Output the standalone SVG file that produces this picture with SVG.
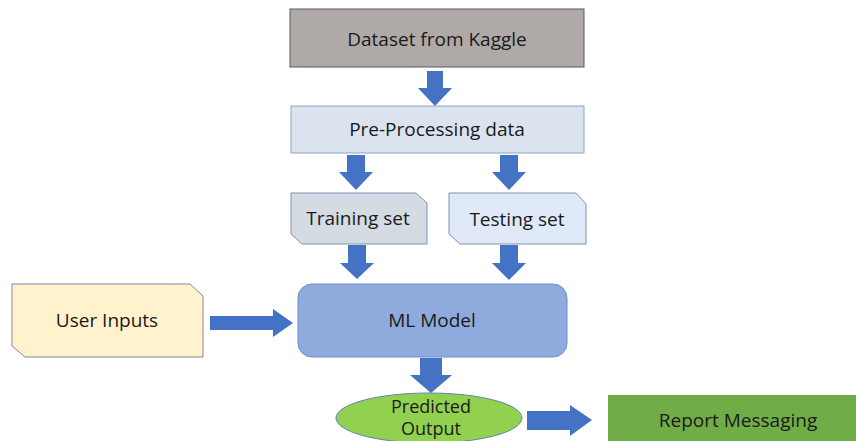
<svg xmlns="http://www.w3.org/2000/svg" width="856" height="441" viewBox="0 0 856 441">
<style>
text{font-family:"Open Sans","Liberation Sans",sans-serif;font-size:19px;fill:#1a1a1a;text-anchor:middle}
.sm{font-size:18px}
.arr{fill:#4472c4}
</style>
<rect width="856" height="441" fill="#ffffff"/>
<g id="connectors">
<polygon class="arr" points="427,71 443,71 443,88 452,88 435,106 418,88 427,88"/>
<polygon class="arr" points="347,155 365,155 365,172 373,172 356,190 339,172 347,172"/>
<polygon class="arr" points="500,155 518,155 518,172 526,172 509,190 492,172 500,172"/>
<polygon class="arr" points="348,245 366,245 366,263 374,263 357,279 340,263 348,263"/>
<polygon class="arr" points="500,245 518,245 518,263 526,263 509,280 492,263 500,263"/>
<polygon class="arr" points="210,316 273,316 273,309 293,323 273,337 273,330 210,330"/>
<polygon class="arr" points="420,358 442,358 442,375 452,375 431,393 410,375 420,375"/>
<polygon class="arr" points="527,411 570,411 570,405 592,420 570,436 570,430 527,430"/>
</g>
<g id="dataset">
<rect x="290" y="9" width="294" height="58" fill="#afaaa7" stroke="#5a5a5a" stroke-width="1"/>
<text x="437" y="46">Dataset from Kaggle</text>
</g>
<g id="preprocessing">
<rect x="291" y="106" width="293" height="47" fill="#dbe3ef" stroke="#8ea5c7" stroke-width="1"/>
<text x="437" y="136">Pre-Processing data</text>
</g>
<g id="training">
<polygon points="291,193 416,193 427,203 427,244 302,244 291,234" fill="#d5dbe3" stroke="#7f93b2" stroke-width="1"/>
<text x="358" y="225">Training set</text>
</g>
<g id="testing">
<polygon points="449,193 576,193 586,204 586,244 460,244 449,234" fill="#dfe9f7" stroke="#7f93b2" stroke-width="1"/>
<text x="517" y="226">Testing set</text>
</g>
<g id="userinputs">
<polygon points="12,284 190,284 203,296 203,357 25,357 12,346" fill="#fff2cc" stroke="#7f8aa0" stroke-width="1"/>
<text x="107" y="327">User Inputs</text>
</g>
<g id="mlmodel">
<rect x="298" y="284" width="269" height="73" rx="14" ry="14" fill="#8faadc" stroke="#6f8dc6" stroke-width="1"/>
<text x="432" y="327">ML Model</text>
</g>
<g id="predicted">
<ellipse cx="429" cy="418" rx="93" ry="25" fill="#92d050" stroke="#5f85b8" stroke-width="1"/>
<text class="sm" x="431" y="413">Predicted</text>
<text class="sm" x="431" y="435">Output</text>
</g>
<g id="report">
<rect x="608" y="395" width="248" height="46" fill="#70ad47"/>
<text x="738" y="427">Report Messaging</text>
</g>
</svg>
